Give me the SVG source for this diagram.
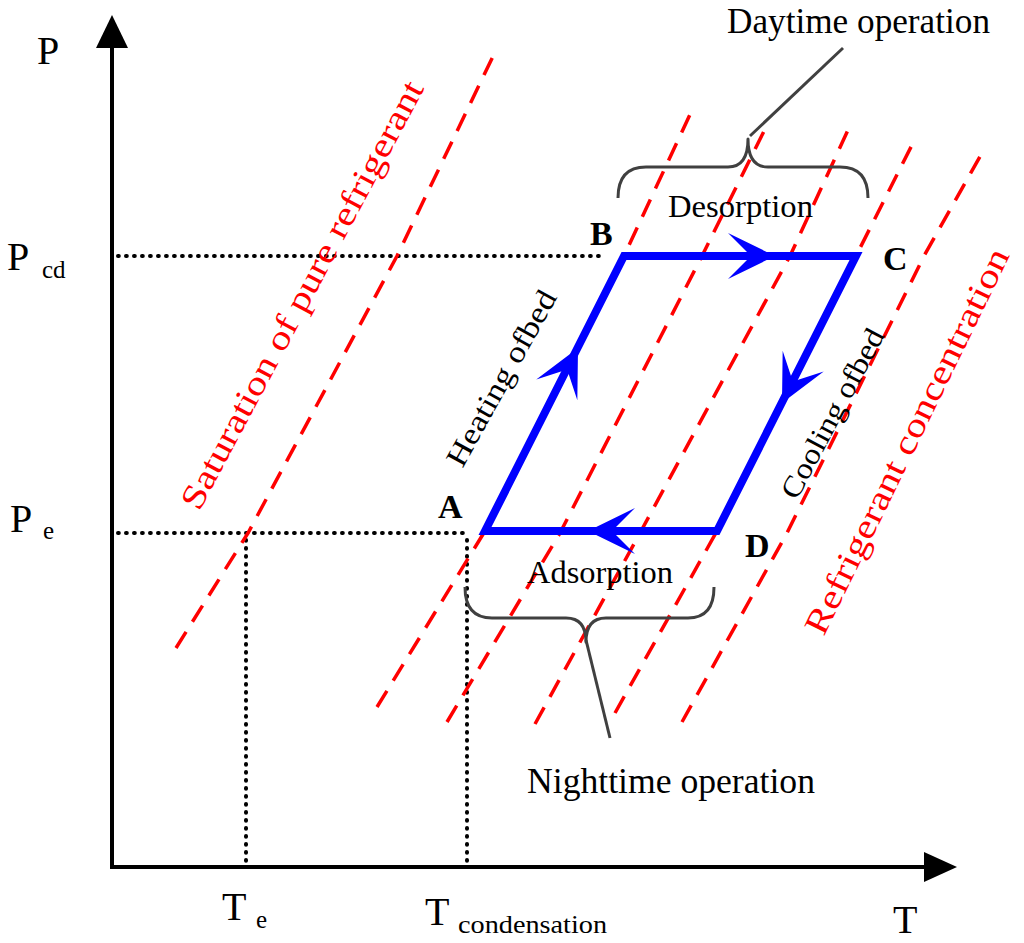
<svg xmlns="http://www.w3.org/2000/svg" width="1024" height="943" viewBox="0 0 1024 943">
<style>
.serif{font-family:"Liberation Serif","Times New Roman",serif;fill:#000}
.red{fill:#ff0000}
.bold{font-weight:bold}
.axis{stroke:#000;stroke-width:4;fill:none}
.dot{stroke:#000;stroke-width:4;stroke-dasharray:0.8 7.2;stroke-linecap:round;fill:none}
.iso{stroke:#ff0000;stroke-width:3.5;stroke-dasharray:19 12;fill:none}
.brace{stroke:#404040;stroke-width:3;fill:none;stroke-linejoin:round}
.cycle{stroke:#0000ff;stroke-width:8;fill:none;stroke-linejoin:miter}
</style>
<defs>
<path id="arr" d="M0,0 L-47,-23 L-24,0 L-47,23 Z" fill="#0000ff"/>
</defs>
<rect width="1024" height="943" fill="#fff"/>

<g id="axes">
<line class="axis" x1="112" y1="45" x2="112" y2="869"/>
<polygon points="112,15 96,48 128,48" fill="#000"/>
<line class="axis" x1="110" y1="867" x2="926" y2="867"/>
<polygon points="957,867 924,852 924,882" fill="#000"/>
</g>

<g id="guides">
<line class="dot" x1="118" y1="256" x2="600" y2="256"/>
<line class="dot" x1="118" y1="533" x2="468" y2="533"/>
<line class="dot" x1="246" y1="540" x2="246" y2="864"/>
<line class="dot" x1="467" y1="540" x2="467" y2="864"/>
</g>

<g id="isosteres">
<polyline class="iso" points="176,648 248,533 397,256 496,50"/>
<polyline class="iso" points="377,707 485,531 624,256 693,108"/>
<polyline class="iso" points="447,722 560,533 702,256 767,125"/>
<polyline class="iso" points="535,724 640,533 790,256 848,130"/>
<polyline class="iso" points="615,713 717,531 856,256 913,143"/>
<polyline class="iso" points="682,722 787,533 924,256 982,153"/>
</g>

<g id="braces">
<path class="brace" d="M618,198 Q618,167 646,167 L728,167 Q748,167 748,139 Q748,167 768,167 L840,167 Q868,167 868,198"/>
<line class="brace" x1="750" y1="136" x2="843" y2="48"/>
<path class="brace" d="M465,587 Q465,618 492,618 L566,618 Q586,618 586,642 Q586,618 606,618 L688,618 Q714,618 714,587"/>
<line class="brace" x1="586" y1="640" x2="610" y2="738"/>
</g>

<g id="cycle">
<polygon class="cycle" points="485,531 624,256 856,256 717,531"/>
<use href="#arr" transform="translate(775,256)"/>
<use href="#arr" transform="translate(588,531) rotate(180)"/>
<use href="#arr" transform="translate(578,348) rotate(-63.2)"/>
<use href="#arr" transform="translate(782,403) rotate(116.8)"/>
</g>

<g id="point-labels">
<text class="serif bold" x="438" y="518" font-size="34">A</text>
<text class="serif bold" x="590" y="245" font-size="34">B</text>
<text class="serif bold" x="883" y="270" font-size="34">C</text>
<text class="serif bold" x="745" y="557" font-size="34">D</text>
</g>

<g id="axis-labels">
<text class="serif" x="37" y="64" font-size="40">P</text>
<text class="serif" x="7" y="270" font-size="40">P</text>
<text class="serif" x="42" y="278" font-size="25">cd</text>
<text class="serif" x="10" y="532" font-size="40">P</text>
<text class="serif" x="43" y="539" font-size="25">e</text>
<text class="serif" x="222" y="920" font-size="40">T</text>
<text class="serif" x="256" y="928" font-size="25">e</text>
<text class="serif" x="425" y="925" font-size="40">T</text>
<text class="serif" x="458" y="933" font-size="26" textLength="149" lengthAdjust="spacingAndGlyphs">condensation</text>
<text class="serif" x="893" y="933" font-size="40">T</text>
</g>

<g id="process-labels">
<text class="serif" x="727" y="33" font-size="36" textLength="263" lengthAdjust="spacingAndGlyphs">Daytime operation</text>
<text class="serif" x="668" y="217" font-size="31" textLength="145" lengthAdjust="spacingAndGlyphs">Desorption</text>
<text class="serif" x="527" y="583" font-size="31" textLength="146" lengthAdjust="spacingAndGlyphs">Adsorption</text>
<text class="serif" x="527" y="793" font-size="35" textLength="288" lengthAdjust="spacingAndGlyphs">Nighttime operation</text>
<text class="serif" font-size="30" text-anchor="middle" transform="translate(510,383) rotate(-61)" textLength="196" lengthAdjust="spacingAndGlyphs">Heating ofbed</text>
<text class="serif" font-size="29" text-anchor="middle" transform="translate(841,418) rotate(-62)" textLength="188" lengthAdjust="spacingAndGlyphs">Cooling ofbed</text>
</g>

<g id="curve-labels">
<text class="serif red" font-size="34" text-anchor="middle" transform="translate(312,300) rotate(-62)" textLength="480" lengthAdjust="spacingAndGlyphs">Saturation of pure refrigerant</text>
<text class="serif red" font-size="34" text-anchor="middle" transform="translate(917,446) rotate(-64)" textLength="425" lengthAdjust="spacingAndGlyphs">Refrigerant concentration</text>
</g>
</svg>
